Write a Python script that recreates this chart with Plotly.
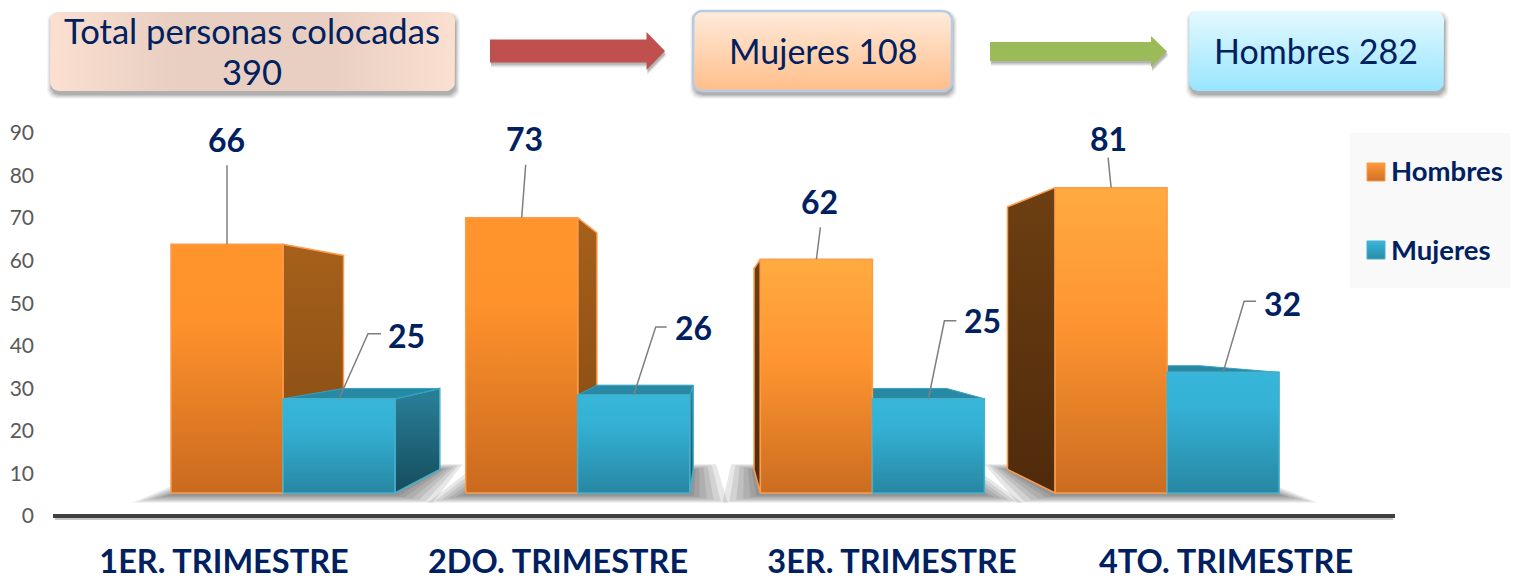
import math
import plotly.graph_objects as go

# ---------- data ----------
categories = ["1ER. TRIMESTRE", "2DO. TRIMESTRE", "3ER. TRIMESTRE", "4TO. TRIMESTRE"]
hombres = [66, 73, 62, 81]
mujeres = [25, 26, 25, 32]
y_ticks = [0, 10, 20, 30, 40, 50, 60, 70, 80, 90]
total_label = "Total personas colocadas"
total_value = "390"
mujeres_label = "Mujeres 108"
hombres_label = "Hombres 282"

# ---------- style / layout constants ----------
W, H = 1513, 578
NAVY = "#002060"
FONT = "Lato"
# bar plot space: pixel position of group 0 left edge, px per group, baseline, px per unit
GX0, GW, BY0, BSY = 135.65, 294.7, 493.0, 3.77
BAR_W = 112.0 / GW
# perspective of the 3-D look (vanishing point in px, depth ratio)
VX, VY, K = 715.0, 325.0, 0.14
Y2_MIN, Y2_MAX = -14, 120
X2_PAD = 0.3
CAT_SHIFT = 0.012
CAT_SPAN = 4.018


def to_x(px):
    return (px - GX0) / GW - 0.5


def to_y(py):
    return (BY0 - py) / BSY


def from_x(x):
    return (x + 0.5) * GW + GX0


def from_y(y):
    return BY0 - y * BSY


def back(x, y):
    px, py = from_x(x), from_y(y)
    return to_x(px + K * (VX - px)), to_y(py + K * (VY - py))


fig = go.Figure()


def poly(xs, ys, fill=None, grad=None, line=None, lw=0, axes=("x2", "y2")):
    kw = dict(
        x=list(xs) + [xs[0]], y=list(ys) + [ys[0]], mode="lines", fill="toself",
        xaxis=axes[0], yaxis=axes[1], hoverinfo="skip", showlegend=False,
        line=dict(width=lw, color=line or "rgba(0,0,0,0)"),
    )
    if grad:
        kw["fillgradient"] = grad
    else:
        kw["fillcolor"] = fill
    fig.add_trace(go.Scatter(**kw))


def vgrad(start, stop, stops):
    return dict(type="vertical", start=start, stop=stop, colorscale=stops)


# real bars (covered by gradient faces below)
gpos = list(range(len(categories)))
fig.add_trace(go.Bar(x=gpos, y=hombres, name="Hombres", marker=dict(color="#F08A28", line=dict(width=0)),
                     xaxis="x2", yaxis="y2", hoverinfo="skip", showlegend=False))
fig.add_trace(go.Bar(x=gpos, y=mujeres, name="Mujeres", marker=dict(color="#31A5C8", line=dict(width=0)),
                     xaxis="x2", yaxis="y2", hoverinfo="skip", showlegend=False))

# floor shadows
for g in gpos:
    l, r = g - BAR_W, g + BAR_W
    lp, rp = from_x(l), from_x(r)
    bl, br = lp + K * (VX - lp), rp + K * (VX - rp)
    for m in (38, 31, 24, 17, 10, 4):
        poly([to_x(lp - m), to_x(rp + m), to_x(br + m * 0.6), to_x(bl - m * 0.6)],
             [to_y(BY0 + 2 + m * 0.2), to_y(BY0 + 2 + m * 0.2), to_y(470 - m * 0.15), to_y(470 - m * 0.15)],
             fill="rgba(60,60,60,0.125)")

ORANGE_A = [[0, "#CA6A1F"], [0.7, "#FF922B"], [1, "#FF942C"]]
ORANGE_B = [[0, "#CB6C20"], [0.55, "#FE9430"], [1, "#FFAB40"]]
ORANGE_LINE = "#FB9B4B"
TEAL = [[0, "#2787A3"], [0.72, "#34B2D6"], [1, "#37B6DA"]]
TEAL_LINE = "#45B0CC"
SIDE_R_O = [[0, "#824A12"], [1, "#A6601B"]]
SIDE_L_O = [[0, "#4F2A0B"], [1, "#6D3F12"]]
SIDE_R_T = [[0, "#154C5C"], [1, "#287C94"]]
TOP_T = "#2889A5"


def draw_sides(l, r, v, line):
    lb, _ = back(l, 0)
    rb, _ = back(r, 0)
    _, b0 = back(l, 0)
    _, tb = back(l, v)
    pr, pl = from_x(r), from_x(l)
    if pr < VX:
        side = SIDE_R_O if line == ORANGE_LINE else SIDE_R_T
        poly([r, rb, rb, r], [v, tb, b0, 0], grad=vgrad(0, v, side), line=line, lw=1.5)
    if pl > VX and line == ORANGE_LINE:
        poly([l, lb, lb, l], [v, tb, b0, 0], grad=vgrad(0, v, SIDE_L_O), line=line, lw=1.5)
    if from_y(v) > VY:
        poly([l, r, rb, lb], [v, v, tb, tb], fill=TOP_T, line="#33A3C2", lw=1)


def draw_front(l, r, v, front, line):
    poly([l, r, r, l], [0, 0, v, v], grad=vgrad(0, v, front), line=line, lw=1.5)


for g in gpos:
    o = ORANGE_A if g < 2 else ORANGE_B
    draw_sides(g - BAR_W, g, hombres[g], ORANGE_LINE)
    draw_sides(g, g + BAR_W, mujeres[g], TEAL_LINE)
    draw_front(g - BAR_W, g, hombres[g], o, ORANGE_LINE)
    draw_front(g, g + BAR_W, mujeres[g], TEAL, TEAL_LINE)

# leader lines and value labels, offsets in px from the top-centre of each bar
leader_h = [[(0, 0), (0, -79)], [(0, 0), (4, -53)], [(0, 0), (4, -32)], [(0, 0), (-3, -30)]]
label_h = [(-1, -105), (3, -79), (3, -58), (-3, -49)]
leader_m = [[(0, 0), (29, -65), (42, -65)], [(0, 0), (22, -68), (33, -68)],
            [(0, 0), (16, -78), (28, -78)], [(0, 0), (21, -71), (33, -71)]]
label_m = [(67, -63), (60, -67), (54, -78), (59, -69)]
annots = []
for g in gpos:
    for vals, lead, lab, cx in ((hombres, leader_h, label_h, g - BAR_W / 2), (mujeres, leader_m, label_m, g + BAR_W / 2)):
        px, py = from_x(cx), from_y(vals[g])
        fig.add_trace(go.Scatter(x=[to_x(px + a) for a, _ in lead[g]], y=[to_y(py + b) for _, b in lead[g]],
                                 mode="lines", line=dict(color="#7F7F7F", width=1.5), xaxis="x2", yaxis="y2",
                                 hoverinfo="skip", showlegend=False))
        annots.append(dict(x=to_x(px + lab[g][0]), y=to_y(py + lab[g][1]), xref="x2", yref="y2", text=str(vals[g]),
                           showarrow=False, font=dict(family=FONT, size=32, color=NAVY, weight=700)))


# ---------- decoration in pixel space ----------
P = ("x3", "y3")


def rrect(x0, y0, x1, y1, r):
    xs, ys = [], []
    for cx, cy, a0 in ((x1 - r, y0 + r, -90), (x1 - r, y1 - r, 0), (x0 + r, y1 - r, 90), (x0 + r, y0 + r, 180)):
        for k in range(7):
            a = math.radians(a0 + k * 15)
            xs.append(cx + r * math.cos(a))
            ys.append(cy + r * math.sin(a))
    return xs, ys


def box(x0, y0, x1, y1, grad, line=None, lw=0):
    for m, al in ((4, 0.05), (3, 0.07), (2, 0.09), (1, 0.12), (0, 0.15)):
        xs, ys = rrect(x0 - m + 1, y0 + 4 - m, x1 + m + 1, y1 + 4 + m, 9)
        poly(xs, ys, fill=f"rgba(60,60,60,{al})", axes=P)
    xs, ys = rrect(x0, y0, x1, y1, 9)
    poly(xs, ys, grad=grad, line=line, lw=lw, axes=P)


box(50, 12, 455, 91, dict(type="horizontal", start=50, stop=455,
                          colorscale=[[0, "#FBE0D2"], [0.3, "#E9CFC1"], [0.7, "#E9CFC1"], [1, "#FBE0D2"]]))
box(693, 11, 952, 91, dict(type="vertical", start=11, stop=91,
                           colorscale=[[0, "#FFEBDC"], [1, "#FFBE8A"]]), line="#B7CCE4", lw=2.5)
box(1189, 11, 1444, 91, dict(type="vertical", start=11, stop=91,
                             colorscale=[[0, "#E4F9FF"], [1, "#98E5FF"]]))


def arrow(x0, x1, xh, ys0, ys1, yh0, yh1, color):
    ym = (ys0 + ys1) / 2
    X = [x0, xh, xh, x1, xh, xh, x0]
    Y = [ys0, ys0, yh0, ym, yh1, ys1, ys1]
    for d, al in ((5, 0.08), (4, 0.1), (3, 0.12), (2, 0.14)):
        poly([v + 1 for v in X], [v + d for v in Y], fill=f"rgba(60,60,60,{al})", axes=P)
    poly(X, Y, fill=color, axes=P)


arrow(490, 665, 646.5, 39.5, 62.5, 32, 70, "#C0504D")
arrow(990, 1167, 1151, 42, 61, 36, 67, "#9BBB59")

# axis shadow
fig.add_trace(go.Scatter(x=[55, 1393], y=[519, 519], mode="lines", line=dict(color="rgba(0,0,0,0.22)", width=2),
                         xaxis="x3", yaxis="y3", hoverinfo="skip", showlegend=False))

# legend panel
poly([1350, 1510, 1510, 1350], [133, 133, 288, 288], fill="#F9F9F9", axes=P)
for (yy, st, ln) in ((172, [[0, "#FE9A38"], [1, "#CF7024"]], ORANGE_LINE), (250, [[0, "#38B6DA"], [1, "#2A8CA8"]], TEAL_LINE)):
    poly([1367, 1385, 1385, 1367], [yy - 9, yy - 9, yy + 9, yy + 9],
         grad=dict(type="vertical", start=yy - 9, stop=yy + 9, colorscale=st), line=ln, lw=1, axes=P)

box_font = dict(family=FONT, size=34, color=NAVY)
total_font = dict(family=FONT, size=34.6, color=NAVY)
leg_font = dict(family=FONT, size=27.5, color=NAVY, weight=700)
for x, y, t, f, anc in (
    (252, 30, total_label, total_font, "center"),
    (252, 71, total_value, total_font, "center"),
    (823, 50, mujeres_label, box_font, "center"),
    (1316, 50, hombres_label, box_font, "center"),
    (1389, 170.5, "Hombres", leg_font, "left"),
    (1389, 249, "Mujeres", leg_font, "left"),
):
    annots.append(dict(x=x, y=y, xref="x3", yref="y3", text=t, showarrow=False, font=f, xanchor=anc, align=anc))

fig.update_layout(
    width=W, height=H, margin=dict(l=0, r=0, t=0, b=0, autoexpand=False),
    paper_bgcolor="white", plot_bgcolor="rgba(0,0,0,0)", barmode="group",
    bargap=1 - 2 * BAR_W, bargroupgap=0, showlegend=False, annotations=annots,
    xaxis=dict(domain=[53 / W, 1395 / W], type="category", categoryorder="array", categoryarray=categories,
               tickvals=categories, ticktext=categories, range=[-0.5 - CAT_SHIFT, -0.5 - CAT_SHIFT + CAT_SPAN],
               showgrid=False, zeroline=False, showline=False, ticks="",
               ticklabelstandoff=23, tickfont=dict(family=FONT, size=32.5, color=NAVY, weight=700), anchor="y"),
    yaxis=dict(domain=[(H - 516) / H, (H - 133) / H], range=[-0.01, 90], tickvals=y_ticks, showgrid=False,
               zeroline=True, zerolinecolor="#404040", zerolinewidth=4,
               showline=False, ticks="", ticklabelstandoff=18, tickfont=dict(family=FONT, size=21, color="#595959"),
               anchor="x"),
    xaxis2=dict(domain=[(GX0 - X2_PAD * GW) / W, (GX0 + (4 + X2_PAD) * GW) / W], range=[-0.5 - X2_PAD, 3.5 + X2_PAD],
                visible=False, anchor="y2"),
    yaxis2=dict(domain=[(H - BY0 + Y2_MIN * BSY) / H, (H - BY0 + Y2_MAX * BSY) / H], range=[Y2_MIN, Y2_MAX],
                visible=False, anchor="x2"),
    xaxis3=dict(domain=[0, 1], range=[0, W], visible=False, anchor="y3"),
    yaxis3=dict(domain=[0, 1], range=[H, 0], visible=False, anchor="x3"),
)
# invisible trace registers the category axis on the main subplot
fig.add_trace(go.Scatter(x=categories, y=[None] * 4, xaxis="x", yaxis="y", hoverinfo="skip", showlegend=False))

fig.write_html("out.html", config={"displayModeBar": False}, post_script="document.body.style.margin='0';")
